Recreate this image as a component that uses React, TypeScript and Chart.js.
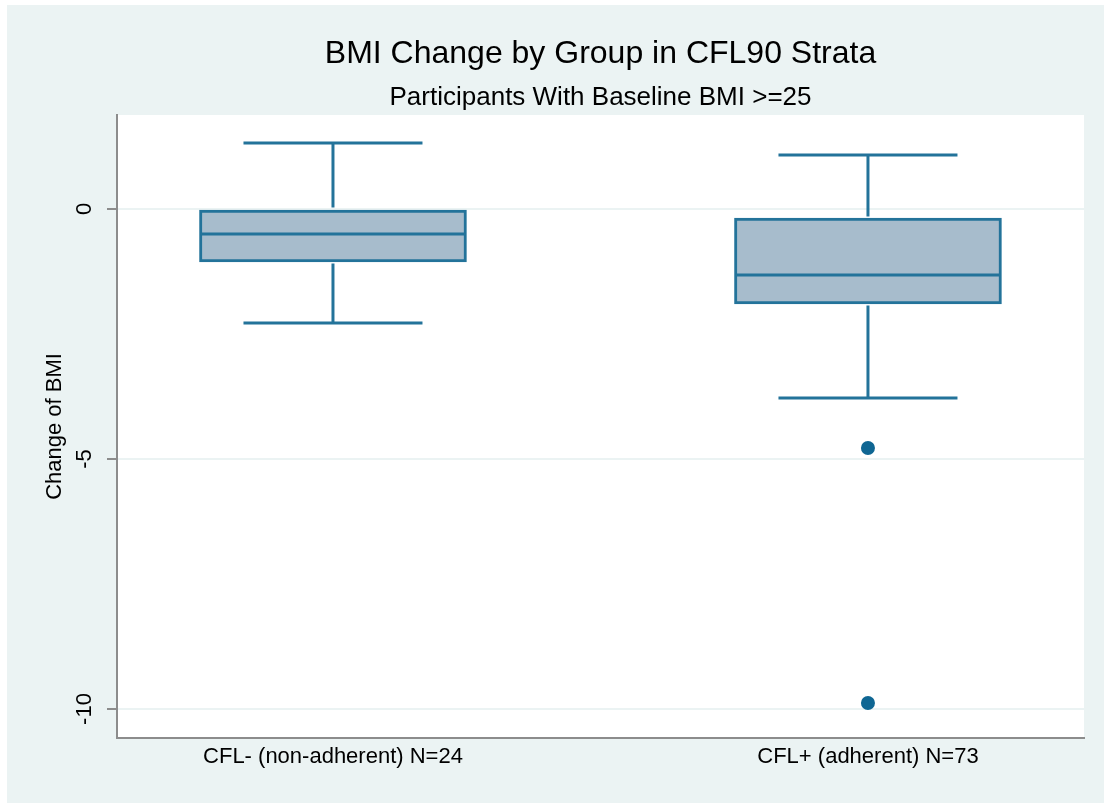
import React, { useEffect, useRef } from "react";
import { Chart, registerables } from "chart.js";

Chart.register(...registerables);

const categories = ["CFL- (non-adherent) N=24", "CFL+ (adherent) N=73"];
const whiskerLow = [-2.28, -3.78];
const q1 = [-1.06, -1.9];
const median = [-0.5, -1.32];
const q3 = [0, -0.18];
const whiskerHigh = [1.32, 1.08];
const outlierGroup = [2, 2];
const outlierValues = [-4.78, -9.88];
const yTickValues = [-10, -5, 0];

const BOX_COLOR = "#23739A";
const BOX_FILL = "#A7BCCC";
const DOT_COLOR = "#0F6693";
const BG = "#EBF3F3";
const AXIS = "#8C8C8C";
const FONT = "'Liberation Sans', Arial, Helvetica, sans-serif";

const BOX_PX = 267;
const CAP_HALF_PX = 89.5;

const bgPlugin = {
  id: "bgPlugin",
  beforeDraw(chart: any) {
    const { ctx, chartArea, width, height } = chart;
    ctx.save();
    ctx.fillStyle = "#ffffff";
    ctx.fillRect(0, 0, width, height);
    ctx.fillStyle = BG;
    ctx.fillRect(7, 5, width - 7, height - 5);
    ctx.fillStyle = "#ffffff";
    ctx.fillRect(chartArea.left, chartArea.top, chartArea.right - chartArea.left, chartArea.bottom - chartArea.top);
    ctx.restore();
  },
};

const boxPlugin = {
  id: "boxPlugin",
  afterDatasetsDraw(chart: any) {
    const { ctx } = chart;
    const xs = chart.scales.x;
    const ys = chart.scales.y;
    ctx.save();
    ctx.strokeStyle = BOX_COLOR;
    ctx.lineWidth = 3;
    ctx.lineCap = "butt";
    const line = (x1: number, y1: number, x2: number, y2: number) => {
      ctx.beginPath();
      ctx.moveTo(x1, y1);
      ctx.lineTo(x2, y2);
      ctx.stroke();
    };
    categories.forEach((_, i) => {
      const cx = xs.getPixelForValue(i + 1);
      const yHi = ys.getPixelForValue(whiskerHigh[i]);
      const yQ3 = ys.getPixelForValue(q3[i]);
      const yQ1 = ys.getPixelForValue(q1[i]);
      const yLo = ys.getPixelForValue(whiskerLow[i]);
      const yMed = ys.getPixelForValue(median[i]);
      line(cx, yQ3 - 1.5, cx, yHi);
      line(cx, yQ1 + 1.5, cx, yLo);
      line(cx - CAP_HALF_PX, yHi, cx + CAP_HALF_PX, yHi);
      line(cx - CAP_HALF_PX, yLo, cx + CAP_HALF_PX, yLo);
      line(cx - BOX_PX / 2 + 1.5, yMed, cx + BOX_PX / 2 - 1.5, yMed);
    });
    ctx.restore();
  },
};

export default function App() {
  const ref = useRef<HTMLCanvasElement | null>(null);
  useEffect(() => {
    if (!ref.current) return;
    const chart = new Chart(ref.current, {
      type: "bar",
      data: {
        datasets: [
          {
            type: "bar",
            data: categories.map((_, i) => ({ x: i + 1, y: [q1[i], q3[i]] })) as any,
            backgroundColor: BOX_FILL,
            borderColor: BOX_COLOR,
            borderWidth: 3,
            borderSkipped: false,
            barThickness: BOX_PX,
          } as any,
          {
            type: "scatter",
            data: outlierValues.map((v, i) => ({ x: outlierGroup[i], y: v })),
            backgroundColor: DOT_COLOR,
            borderColor: DOT_COLOR,
            pointRadius: 7,
            borderWidth: 0,
          } as any,
        ],
      },
      options: {
        animation: false,
        responsive: false,
        devicePixelRatio: 1,
        layout: { padding: { top: 5, right: 20, bottom: 0, left: 0 } },
        plugins: {
          legend: { display: false },
          tooltip: { enabled: false },
          title: {
            display: true,
            text: "BMI Change by Group in CFL90 Strata",
            color: "#000",
            fullSize: false,
            font: { family: FONT, size: 32, weight: "normal" as any },
            padding: { top: 30, bottom: 0 },
          },
          subtitle: {
            display: true,
            text: "Participants With Baseline BMI >=25",
            color: "#000",
            fullSize: false,
            font: { family: FONT, size: 26, weight: "normal" as any },
            padding: { top: 9, bottom: 1.4 },
          },
        },
        scales: {
          x: {
            type: "linear",
            offset: false,
            min: 0.5963,
            max: 2.4038,
            afterBuildTicks: (scale: any) => {
              scale.ticks = categories.map((_, i) => ({ value: i + 1 }));
            },
            afterFit: (scale: any) => {
              scale.height = 65;
            },
            ticks: {
              color: "#000",
              font: { family: FONT, size: 22 },
              padding: 6,
              maxRotation: 0,
              minRotation: 0,
              autoSkip: false,
              callback: (v: any) => categories[Math.round(Number(v)) - 1] ?? "",
            },
            grid: { display: false, drawTicks: false, offset: false },
            border: { display: true, color: AXIS, width: 2 },
          },
          y: {
            type: "linear",
            min: -10.58,
            max: 1.88,
            afterBuildTicks: (scale: any) => {
              scale.ticks = yTickValues.map((v) => ({ value: v }));
            },
            afterFit: (scale: any) => {
              scale.width = 117;
            },
            ticks: {
              color: "#000",
              font: { family: FONT, size: 22 },
              padding: 6,
              minRotation: 90,
              maxRotation: 90,
              crossAlign: "center",
              autoSkip: false,
              callback: (v: any) => String(v),
            },
            grid: {
              color: BG,
              lineWidth: 2,
              tickColor: AXIS,
              tickWidth: 2,
              tickLength: 10,
              drawTicks: true,
            },
            border: { display: true, color: AXIS, width: 2 },
            title: {
              display: true,
              text: "Change of BMI",
              color: "#000",
              font: { family: FONT, size: 22 },
              padding: { top: 42, bottom: 0 },
            },
          },
        },
      },
      plugins: [bgPlugin, boxPlugin],
    } as any);
    return () => chart.destroy();
  }, []);
  return (
    <div style={{ position: "absolute", left: 0, top: 0, width: 1104, height: 803 }}>
      <canvas ref={ref} width={1104} height={803} style={{ width: 1104, height: 803, display: "block" }} />
    </div>
  );
}
